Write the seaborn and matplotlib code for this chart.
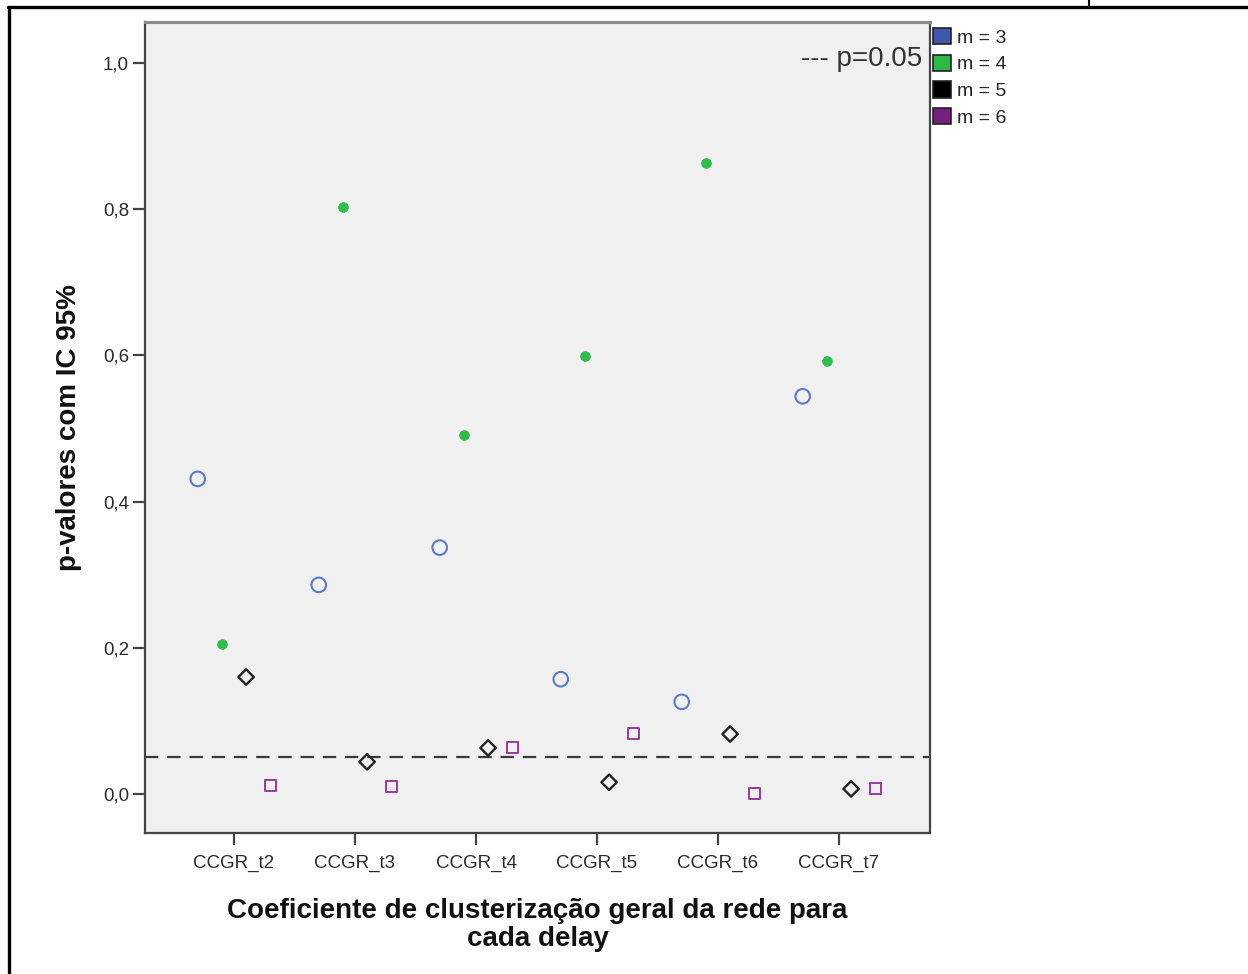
import matplotlib
matplotlib.use("Agg")
import matplotlib.pyplot as plt
import seaborn as sns
import pandas as pd
from matplotlib.patches import Patch
from matplotlib.ticker import FuncFormatter

# ---------------- data ----------------
categories = ["CCGR_t2", "CCGR_t3", "CCGR_t4", "CCGR_t5", "CCGR_t6", "CCGR_t7"]
m3 = [0.431, 0.286, 0.337, 0.157, 0.126, 0.544]
m4 = [0.205, 0.803, 0.491, 0.599, 0.863, 0.592]
m5 = [0.160, 0.044, 0.063, 0.016, 0.082, 0.007]
m6 = [0.012, 0.010, 0.063, 0.083, 0.001, 0.008]
series_names = ["m = 3", "m = 4", "m = 5", "m = 6"]
threshold = 0.05
threshold_label = "--- p=0.05"
y_ticks = [0.0, 0.2, 0.4, 0.6, 0.8, 1.0]
x_label = "Coeficiente de clusterização geral da rede para\ncada delay"
y_label = "p-valores com IC 95%"

# ---------------- styling ----------------
sns.set_theme(style="white")
plt.rcParams["font.family"] = ["Liberation Sans", "DejaVu Sans"]

legend_colors = ["#3E58AC", "#2EB848", "#000000", "#74207F"]
styles = [
    dict(marker="o", s=110, facecolor="none", edgecolor="#5B7AC9", linewidth=1.5),
    dict(marker="o", s=50, facecolor="#2EBD4A", edgecolor="#2EBD4A", linewidth=0.5),
    dict(marker="D", s=62, facecolor="none", edgecolor="#222222", linewidth=1.7),
    dict(marker="s", s=62, facecolor="none", edgecolor="#9A3A9E", linewidth=1.4),
]
offsets = [-0.3, -0.1, 0.1, 0.3]

rows = []
for si, (name, vals) in enumerate(zip(series_names, [m3, m4, m5, m6])):
    for ci, (cat, v) in enumerate(zip(categories, vals)):
        rows.append({"series": name, "category": cat,
                     "xpos": ci + offsets[si], "value": v})
df = pd.DataFrame(rows)

W, H = 1248, 974
fig = plt.figure(figsize=(W / 100, H / 100), dpi=100)
fig.patch.set_facecolor("white")

ax = fig.add_axes([145 / W, 1 - 833 / H, (930 - 145) / W, (833 - 22) / H])
ax.set_facecolor("#F0F0F0")

# threshold line
ax.axhline(threshold, color="#3a3a3a", linewidth=1.6, dashes=(6, 4), zorder=1)

for name, st in zip(series_names, styles):
    sub = df[df["series"] == name]
    sns.scatterplot(data=sub, x="xpos", y="value", ax=ax, legend=False,
                    zorder=3, **st)

ax.set_xlim(-0.7355, 5.752)
ax.set_ylim(-0.0534, 1.056)
ax.set_xticks(range(len(categories)))
ax.set_xticklabels(categories)
ax.set_yticks(y_ticks)
ax.yaxis.set_major_formatter(FuncFormatter(lambda v, p: f"{v:.1f}".replace(".", ",")))
ax.tick_params(axis="both", which="both", direction="out", length=8.5, width=1.6,
               color="#444444", labelsize=13.5, labelcolor="#2a2a2a",
               bottom=True, left=True, top=False, right=False)
ax.tick_params(axis="x", pad=7)
ax.tick_params(axis="y", pad=3)

for side in ["left", "bottom", "right"]:
    ax.spines[side].set_color("#444444")
    ax.spines[side].set_linewidth(1.6)
ax.spines["top"].set_color("#8a8a8a")
ax.spines["top"].set_linewidth(2.2)

ax.set_xlabel(x_label, fontsize=20, fontweight="bold", labelpad=19, linespacing=1.08,
              color="#111111")
ax.set_ylabel(y_label, fontsize=20, fontweight="bold", labelpad=15, color="#111111")

ax.text(0.99, 0.971, threshold_label, transform=ax.transAxes, ha="right", va="top",
        fontsize=20, color="#333333")

# legend
handles = [Patch(facecolor=c, edgecolor="#222222", linewidth=1.2) for c in legend_colors]
fig.legend(handles=handles, labels=series_names, loc="upper left",
           bbox_to_anchor=(929 / W, 1 - 24 / H), frameon=False, fontsize=14,
           handlelength=0.92, handleheight=0.92, handletextpad=0.3,
           labelspacing=0.4, borderpad=0.2, borderaxespad=0)

# outer frame lines (table cell)
fig.add_artist(plt.Line2D([8 / W, 1.0], [1 - 6.5 / H, 1 - 6.5 / H],
                          transform=fig.transFigure, color="black", linewidth=2.4))
fig.add_artist(plt.Line2D([8.5 / W, 8.5 / W], [0, 1 - 6.5 / H],
                          transform=fig.transFigure, color="black", linewidth=2.4))
fig.add_artist(plt.Line2D([1089 / W, 1089 / W], [1 - 6 / H, 1.0],
                          transform=fig.transFigure, color="black", linewidth=1.5))

fig.savefig("out.png", dpi=100, facecolor="white")
